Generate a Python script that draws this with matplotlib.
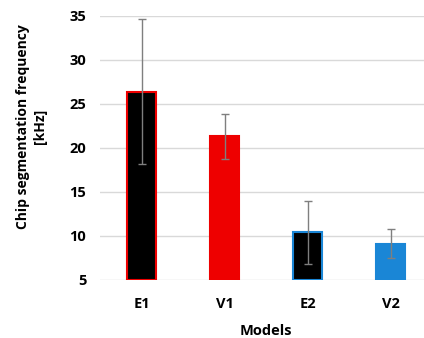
import numpy as np
import matplotlib.pyplot as plt

plt.rcParams['font.family'] = ['Open Sans', 'DejaVu Sans']

models = ['E1', 'V1', 'E2', 'V2']
freq = [26.4, 21.3, 10.4, 9.1]
err = [8.2, 2.6, 3.6, 1.65]
face = ['black', '#ee0000', 'black', '#1a86d6']
edge = ['#ee0000', '#ee0000', '#1a86d6', '#1a86d6']

fig = plt.figure(figsize=(4.24, 3.38), dpi=100)
ax = fig.add_axes([0.236, 0.172, 0.783, 0.781])

x = np.arange(len(models))
ax.bar(x, np.array(freq) - 5, bottom=5, width=0.34, color=face,
       edgecolor=edge, linewidth=1.5, zorder=3)
ax.errorbar(x, freq, yerr=err, fmt='none', ecolor='#7f7f7f',
            elinewidth=1, capsize=3, capthick=1, zorder=4)

ax.set_xlim(-0.5, 3.5)
ax.set_ylim(5, 35)
ax.set_yticks(range(5, 36, 5))
ax.set_xticks(x)
ax.set_xticklabels(models)
ax.grid(axis='y', color='#d9d9d9', linewidth=1, zorder=0)
for s in ax.spines.values():
    s.set_visible(False)
ax.tick_params(length=0, labelsize=10.5, pad=10)
ax.tick_params(axis='x', pad=12)
for lab in ax.get_xticklabels() + ax.get_yticklabels():
    lab.set_fontweight('bold')

ax.set_xlabel('Models', fontsize=10.5, fontweight='bold', labelpad=10)
ax.set_ylabel('Chip segmentation frequency\n[kHz]', fontsize=10,
              fontweight='bold', linespacing=1.3)
ax.yaxis.set_label_coords(-0.16, 0.58)

fig.savefig('out.png', dpi=100)
